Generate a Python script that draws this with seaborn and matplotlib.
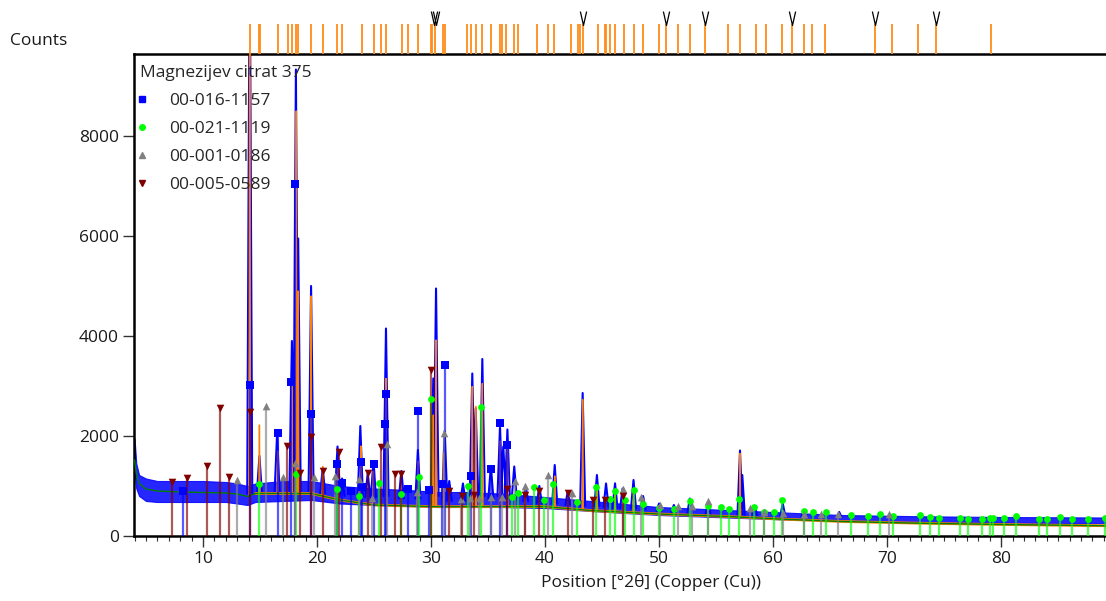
import numpy as np
import matplotlib
matplotlib.use("Agg")
import matplotlib.pyplot as plt
import seaborn as sns
from matplotlib.lines import Line2D
from matplotlib.ticker import MultipleLocator

# Fitted background and spread of the noisy scan around it
bg_x = [4.0, 4.15, 4.4, 5.0, 6.0, 8.0, 10.0, 12.0, 13.0, 13.9, 14.6, 17.0, 19.5, 22.0,
        25.0, 28.0, 30.5, 33.0, 36.0, 40.0, 44.0, 50.0, 56.0, 61.0, 66.0, 73.0, 80.0, 89.2]
bg_y = [1520, 1250, 1050, 940, 900, 880, 870, 860, 840, 790, 850, 850, 850, 720,
        620, 600, 587, 587, 587, 587, 510, 440, 390, 335, 290, 255, 230, 205]
noise_lo = [1250, 950, 800, 700, 680, 680, 680, 680, 650, 620, 680, 700, 720, 650,
            620, 600, 580, 580, 580, 560, 500, 420, 370, 330, 300, 275, 265, 255]
noise_hi = [1950, 1450, 1220, 1150, 1100, 1100, 1100, 1080, 1050, 1000, 1050, 1100, 1100, 1000,
            950, 920, 880, 880, 850, 780, 700, 580, 520, 470, 420, 395, 380, 370]

# Measured scan peaks (position, top, local base)
scan_pos = [14.10, 14.95, 16.50, 17.80, 18.15, 18.35, 19.48, 20.50, 21.80, 22.20,
            23.80, 24.45, 24.95, 26.05, 27.40, 28.85, 30.20, 30.44, 31.20, 31.60,
            32.80, 33.62, 33.92, 34.50, 35.25, 36.05, 36.34, 36.70, 37.30, 38.30,
            39.50, 40.85, 42.00, 43.30, 44.55, 45.35, 46.14, 46.80, 47.76, 48.60,
            50.00, 51.30, 52.70, 54.30, 57.10, 57.30, 58.40, 60.85, 62.70, 65.80]
scan_top = [12000, 1600, 2050, 3900, 9330, 5950, 5000, 1350, 1790, 1150,
            2200, 1250, 1500, 4150, 1300, 1720, 3150, 4950, 2100, 1100,
            1050, 3250, 2550, 3540, 1400, 2160, 1790, 2130, 1390, 1000,
            1000, 1420, 900, 2860, 1220, 1050, 1053, 950, 1120, 800,
            650, 620, 750, 650, 1710, 1220, 600, 650, 520, 480]
scan_base = [850, 850, 850, 900, 900, 900, 900, 850, 850, 800,
             800, 780, 780, 800, 750, 750, 800, 800, 750, 700,
             700, 800, 800, 800, 750, 800, 800, 750, 750, 700,
             650, 650, 620, 600, 600, 580, 560, 550, 550, 530,
             500, 480, 460, 440, 420, 420, 410, 400, 380, 370]

# Calculated profile peaks
calc_pos = [14.10, 14.95, 16.55, 17.80, 18.18, 18.35, 19.48, 20.50, 21.80, 23.85,
            24.95, 26.05, 28.85, 30.20, 30.44, 31.10, 33.62, 33.92, 34.50, 36.05,
            36.70, 40.85, 43.30, 44.55, 46.14, 47.76, 57.10]
calc_top = [12000, 2220, 1700, 3000, 8500, 4900, 4800, 1390, 1500, 1800,
            1300, 3150, 1500, 2420, 3920, 1660, 2990, 2590, 3050, 1900,
            1800, 1200, 2730, 1000, 900, 950, 1650]
calc_base = [800, 850, 850, 850, 850, 850, 850, 800, 760, 700,
             640, 620, 600, 590, 590, 587, 587, 587, 587, 587,
             587, 560, 530, 510, 500, 490, 400]

# Reference patterns
blue_pos = [8.27, 14.12, 16.55, 17.7, 18.1, 19.45, 21.73, 22.2, 23.0, 23.86, 23.97, 25.0,
            26.0, 26.05, 27.96, 28.86, 29.8, 30.92, 31.25, 33.48, 35.24, 36.05, 36.7]
blue_h = [900, 3030, 2065, 3090, 7050, 2450, 1450, 1070, 910, 1480, 990, 1450,
          2240, 2850, 940, 2510, 920, 1040, 3420, 1200, 1340, 2265, 1825]

green_pos = [14.9, 18.2, 21.78, 23.71, 25.47, 27.4, 28.95, 30.03, 33.25, 34.41, 37.1, 37.6,
             39.0, 39.94, 40.67, 42.8, 44.5, 45.67, 46.14, 47.05, 47.78, 48.6, 49.97, 51.3,
             52.7, 54.3, 55.4, 56.1, 57.0, 58.36, 59.2, 60.06, 60.8, 62.75, 63.46, 64.6,
             66.8, 68.3, 69.35, 70.56, 72.85, 73.8, 74.54, 76.4, 77.1, 78.3, 79.04, 79.3,
             80.24, 81.35, 83.35, 84.05, 85.13, 86.25, 87.66, 89.1]
green_h = [1043, 1243, 948, 802, 1056, 842, 1190, 2740, 1003, 2580, 776, 856,
           976, 722, 1043, 682, 976, 736, 902, 722, 916, 648, 555, 541,
           708, 608, 588, 541, 748, 581, 487, 481, 722, 501, 481, 481,
           421, 395, 441, 395, 421, 374, 361, 361, 347, 347, 361, 361,
           361, 395, 334, 334, 381, 334, 347, 367]

gray_pos = [12.95, 15.5, 17.0, 18.07, 19.74, 21.6, 23.7, 24.85, 26.17, 28.8, 31.14,
            32.63, 33.45, 34.24, 35.26, 36.2, 37.4, 38.27, 40.23, 42.4, 46.8, 48.4,
            50.1, 51.64, 52.92, 54.27, 58.0, 59.2, 60.9, 62.75, 64.2, 65.7, 70.2]
gray_h = [1123, 2593, 1177, 1470, 1177, 1210, 1137, 768, 1838, 888, 2059,
          736, 762, 768, 782, 776, 1110, 996, 1223, 856, 936, 782,
          628, 608, 608, 696, 561, 488, 467, 447, 447, 441, 441]

red_pos = [7.28, 8.62, 10.38, 11.5, 12.3, 14.15, 17.37, 18.5, 19.5, 20.5, 21.93, 24.47,
           25.64, 26.8, 27.4, 29.96, 31.58, 32.72, 33.77, 36.64, 38.25, 39.5, 41.98,
           44.17, 45.3, 46.8]
red_h = [1089, 1170, 1410, 2560, 1177, 2480, 1805, 1270, 1985, 1297, 1678, 1257,
         1771, 1250, 1250, 3328, 896, 802, 822, 942, 828, 896, 856,
         722, 722, 802]

# Peak list shown in the strip above the plot
strip_pos = [14.16, 14.88, 14.96, 16.57, 17.45, 17.82, 18.19, 18.35, 19.48, 20.52, 21.74,
             22.20, 23.93, 24.99, 25.62, 26.03, 27.46, 27.97, 28.88, 29.97, 30.13, 30.32,
             31.04, 31.26, 33.17, 33.54, 33.98, 34.48, 35.24, 36.05, 36.21, 36.61, 37.27,
             37.62, 39.28, 40.28, 40.82, 42.32, 42.89, 43.04, 43.30, 44.63, 45.29, 45.39,
             45.68, 46.15, 46.91, 47.80, 48.59, 50.01, 50.65, 51.62, 52.70, 54.04, 56.09,
             57.07, 58.46, 59.35, 60.75, 61.63, 62.71, 63.40, 64.58, 68.95, 70.44, 72.75,
             74.33, 79.11]
v_pos = [30.28, 30.45, 43.36, 50.65, 54.04, 61.63, 68.95, 74.33]

phase_labels = ["00-016-1157", "00-021-1119", "00-001-0186", "00-005-0589"]
title = "Magnezijev citrat 375"

sns.set_theme(style="white")
plt.rcParams["font.family"] = ["Open Sans", "DejaVu Sans"]

W, H = 1106, 601
fig = plt.figure(figsize=(W / 100, H / 100), dpi=100)
ax = fig.add_axes([134 / W, 65 / H, 972 / W, 482 / H])


def peak_path(pos, top, base, w):
    xs, ys = [], []
    for p, t, b in zip(pos, top, base):
        xs += [p - w, p, p + w, np.nan]
        ys += [b, t, b, np.nan]
    return xs, ys


# noisy scan
ax.fill_between(bg_x, noise_lo, noise_hi, color="#0000ff", lw=0.8, alpha=0.85, zorder=2)
sx, sy = peak_path(scan_pos, scan_top, scan_base, 0.22)
ax.plot(sx, sy, color="#0000ff", lw=1.5, zorder=2)

# calculated profile and background
cx, cy = peak_path(calc_pos, calc_top, calc_base, 0.05)
ax.plot(cx, cy, color="#ff8000", lw=1.0, zorder=3)
sns.lineplot(x=bg_x[10:], y=bg_y[10:], color="#ff8000", lw=2.0, ax=ax, zorder=3)
sns.lineplot(x=bg_x, y=bg_y, color="#008000", lw=1.0, ax=ax, zorder=3)

# reference sticks
phases = [
    (blue_pos, blue_h, "#0000ff", "s", 26),
    (green_pos, green_h, "#00ff00", "o", 24),
    (gray_pos, gray_h, "#808080", "^", 30),
    (red_pos, red_h, "#800000", "v", 30),
]
for pos, h, col, mk, size in phases:
    ax.vlines(pos, 0, h, colors=col, lw=1.6, alpha=0.65, zorder=4)
    sns.scatterplot(x=pos, y=h, marker=mk, color=col, s=size, linewidth=0,
                    ax=ax, zorder=5, legend=False)

ax.set_xlim(3.95, 89.2)
ax.set_ylim(0, 9640)
ax.set_yticks([0, 2000, 4000, 6000, 8000])
ax.set_xticks([10, 20, 30, 40, 50, 60, 70, 80])
ax.xaxis.set_minor_locator(MultipleLocator(1))
ax.tick_params(which="both", bottom=True, left=True, direction="out", color="#333333")
ax.tick_params(which="major", length=8, width=1, labelsize=12.5, labelcolor="#1a1a1a", pad=3)
ax.tick_params(axis="x", which="minor", length=3.5, width=0.8)
for side in ["left", "bottom", "top"]:
    ax.spines[side].set_color("black")
    ax.spines[side].set_linewidth(1.8)
ax.spines["right"].set_visible(False)
ax.set_xlabel("Position [°2θ] (Copper (Cu))", fontsize=12.5, color="#1a1a1a",
              x=0.532, labelpad=5)
ax.set_ylabel("")

handles = [Line2D([], [], ls="none", marker=mk, color=col, markersize=4)
           for _, _, col, mk, _ in phases]
leg = ax.legend(handles, phase_labels, title=title, loc="upper left", frameon=False,
                bbox_to_anchor=(0.0, 0.989),
                fontsize=12.5, title_fontsize=12.5, alignment="left",
                handlelength=0.2, handletextpad=1.5, borderpad=0.15,
                borderaxespad=0.2, labelspacing=0.68)
leg.set_zorder(10)

# peak-list strip above the axes
top = fig.add_axes([134 / W, (H - 54) / H, 972 / W, 44 / H], sharex=ax)
top.axis("off")
top.set_ylim(0, 1)
top.vlines(strip_pos, 0, 0.68, colors="#ff8c1a", lw=1.3)
v_mark = [(-0.45, 1.0), (0.0, -1.0), (0.45, 1.0)]
top.plot(v_pos, [0.82] * len(v_pos), ls="none", marker=v_mark, markersize=10,
         mfc="none", mec="black", mew=0.9)

fig.text(10 / W, 1 - 41 / H, "Counts", fontsize=12.5, va="center", ha="left", color="#1a1a1a")

fig.savefig("out.png", dpi=100)
